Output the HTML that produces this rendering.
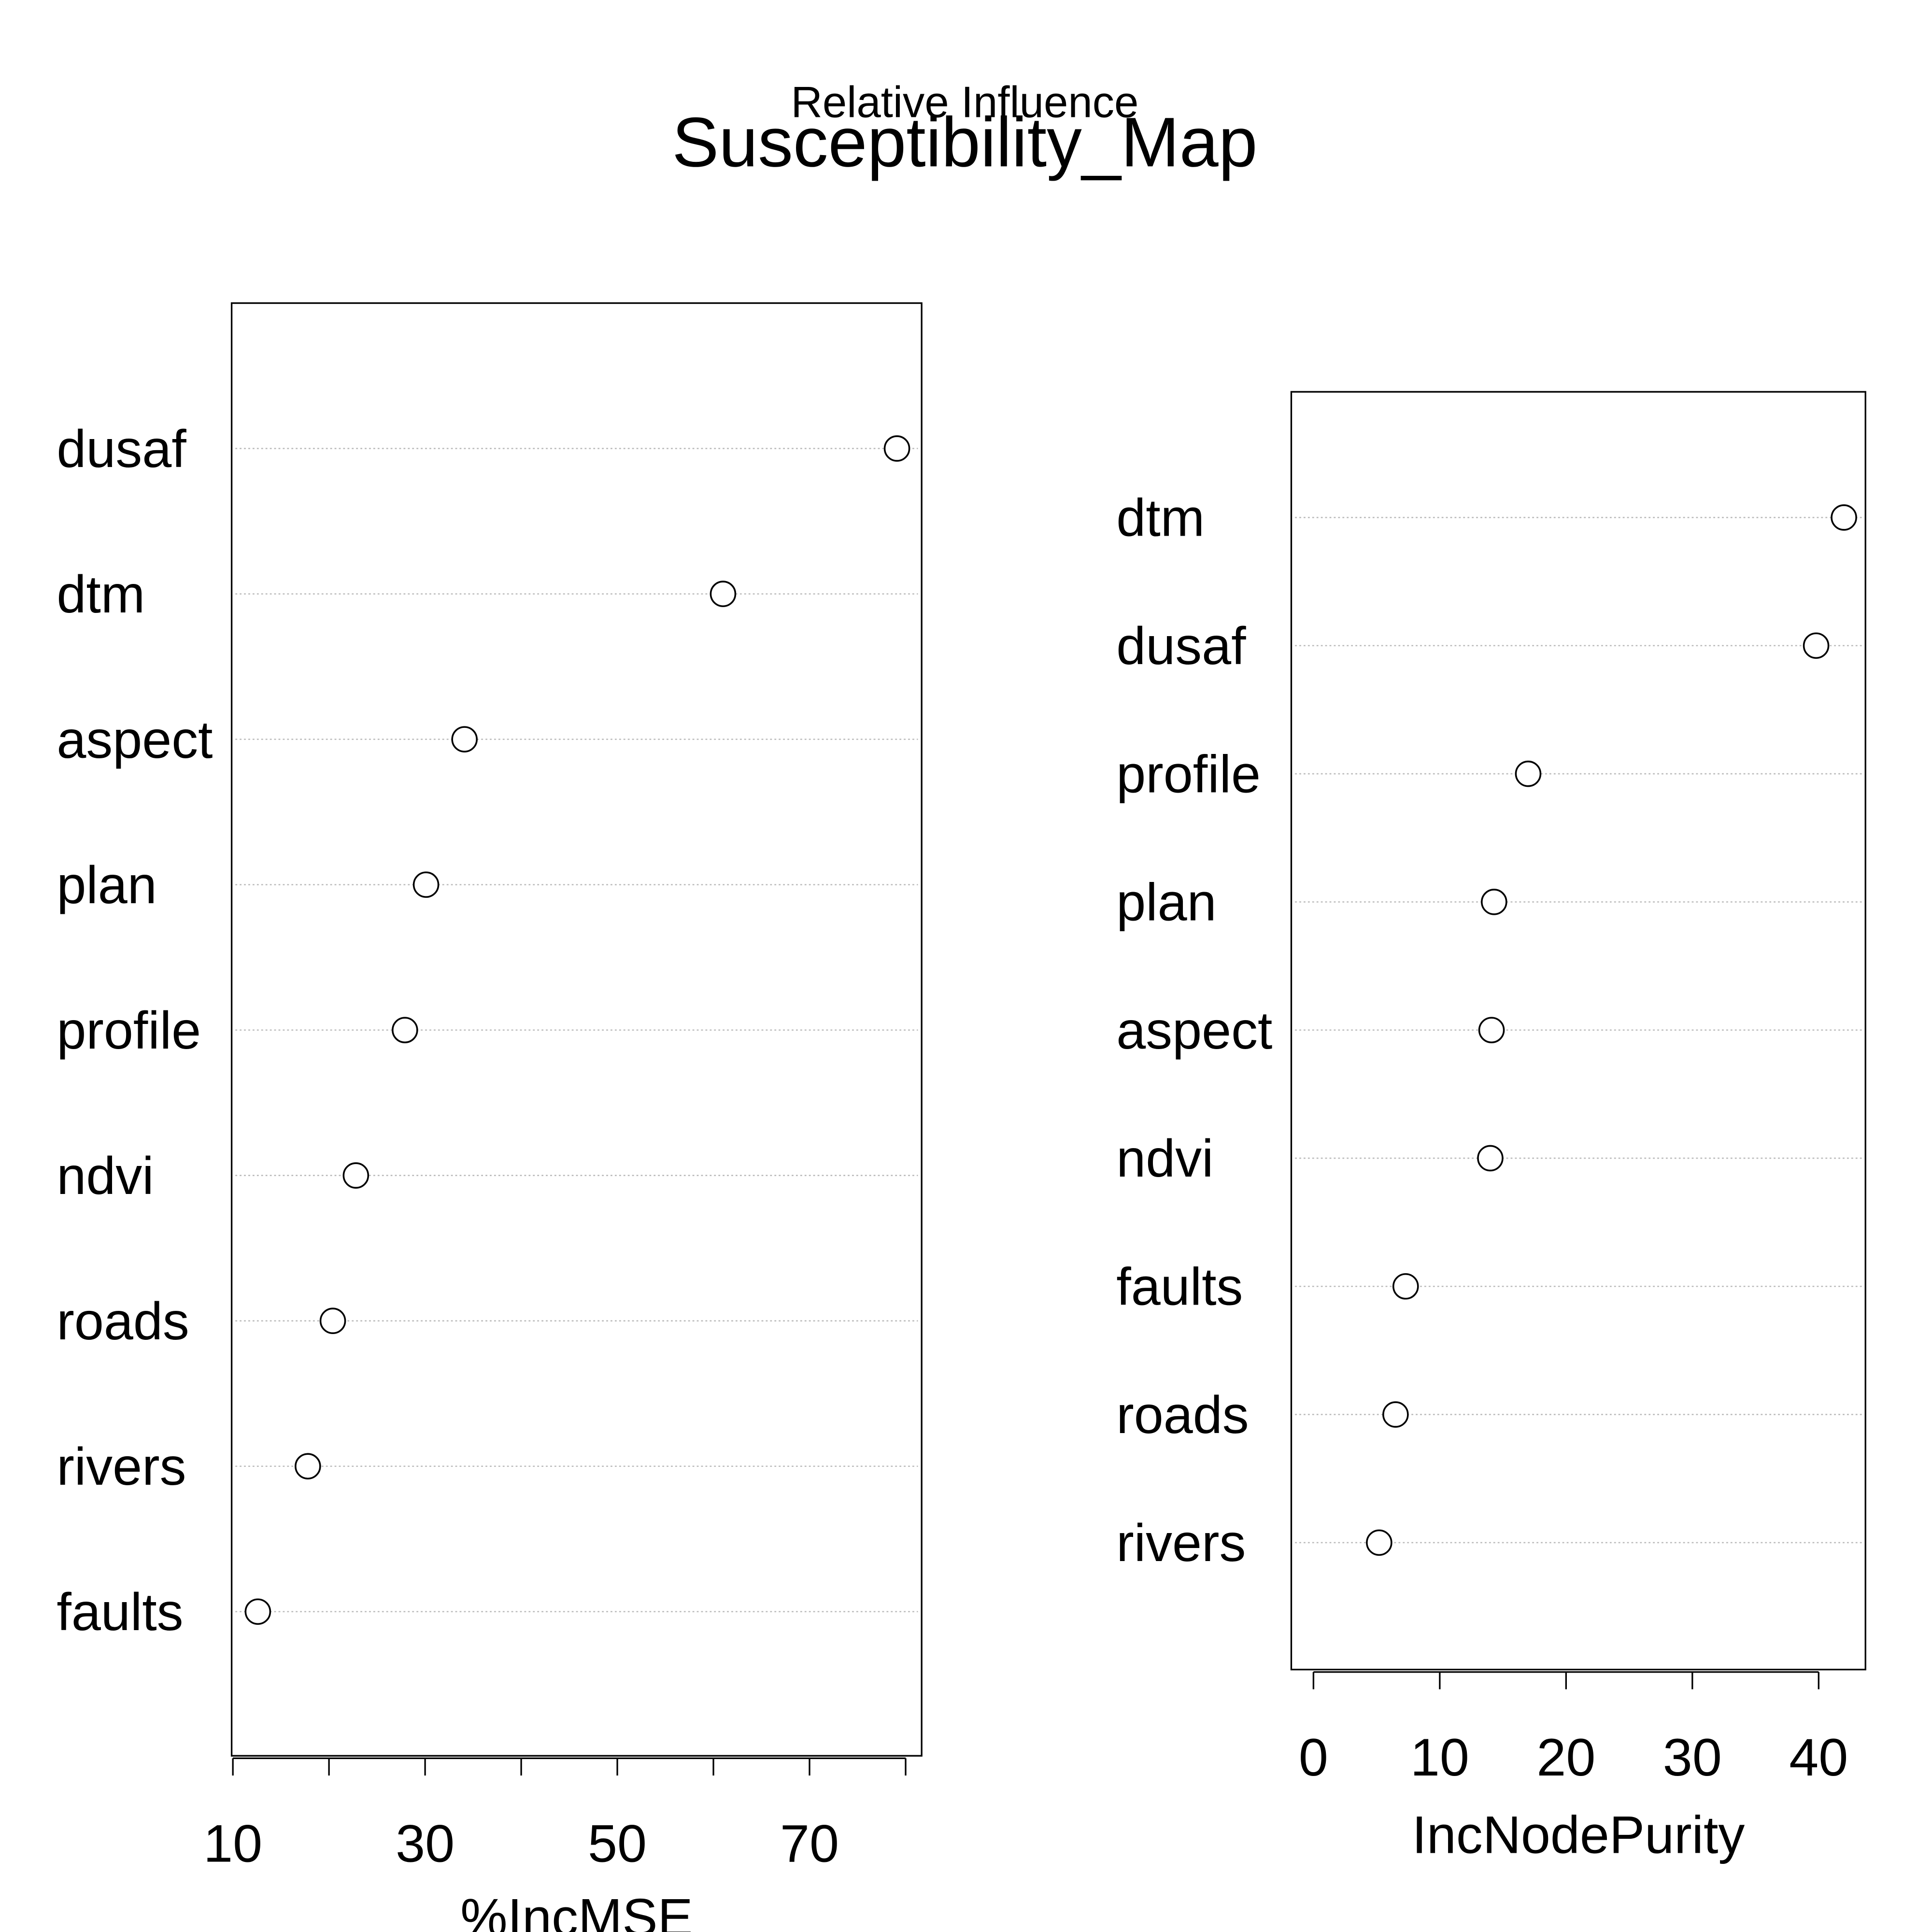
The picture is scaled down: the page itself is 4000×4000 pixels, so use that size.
<!DOCTYPE html>
<html><head><meta charset="utf-8">
<style>
html,body{margin:0;padding:0;background:#fff;}
svg{display:block;}
text{font-family:"Liberation Sans",Arial,sans-serif;fill:#000;}
</style></head>
<body>
<svg id="chart" width="4000" height="4000" viewBox="0 0 1568 1568" xmlns="http://www.w3.org/2000/svg">
<rect x="0" y="0" width="1568" height="1568" fill="#fff"/>
<text x="783" y="95" font-size="35.5" text-anchor="middle">Relative Influence</text>
<text x="783" y="135" font-size="57" text-anchor="middle">Susceptibility_Map</text>
</svg>
<script>
const leftVars = ["dusaf","dtm","aspect","plan","profile","ndvi","roads","rivers","faults"];
const leftVals = [79.1,61.0,34.1,30.1,27.9,22.8,20.4,17.8,12.6];
const leftTicks = [10,20,30,40,50,60,70,80];
const leftTickLabels = ["10","30","50","70"];
const rightVars = ["dtm","dusaf","profile","plan","aspect","ndvi","faults","roads","rivers"];
const rightVals = [42.0,39.8,17.0,14.3,14.1,14.0,7.3,6.5,5.2];
const rightTicks = [0,10,20,30,40];
const rightTickLabels = ["0","10","20","30","40"];

const NS="http://www.w3.org/2000/svg";
const svg=document.getElementById('chart');
function mk(tag,attrs,parent){const e=document.createElementNS(NS,tag);for(const k in attrs)e.setAttribute(k,attrs[k]);(parent||svg).appendChild(e);return e;}

function panel(cfg){
  const g=mk('g',{});
  
  
  const xs=v=>cfg.x0+(v-cfg.v0)*cfg.pxPer;
  const ys=i=>cfg.yFirst+i*cfg.step;
  cfg.vars.forEach((name,i)=>{
    const y=ys(i);
    const gl=mk('line',{x1:cfg.bx1+3,x2:cfg.bx2-3,y1:y,y2:y,stroke:'#bbb','stroke-width':1,'stroke-dasharray':'1.5,2'},g);
    
    
    const t=mk('text',{x:cfg.labelX,y:y+15,'font-size':43},g);
    t.textContent=name;
    
    
    const c=mk('circle',{cx:xs(cfg.vals[i]),cy:y,r:10,fill:'#fff',stroke:'#000','stroke-width':1.4},g);
    
    
  });
  const box=mk('rect',{x:cfg.bx1,y:cfg.by1,width:cfg.bx2-cfg.bx1,height:cfg.by2-cfg.by1,fill:'none',stroke:'#000','stroke-width':1.3},g);
  
  
  const ax=mk('line',{x1:xs(cfg.ticks[0]),x2:xs(cfg.ticks[cfg.ticks.length-1]),y1:cfg.by2+2,y2:cfg.by2+2,stroke:'#000','stroke-width':1.3},g);
  
  
  cfg.ticks.forEach(v=>{
    const tk=mk('line',{x1:xs(v),x2:xs(v),y1:cfg.by2+2,y2:cfg.by2+16,stroke:'#000','stroke-width':1.3},g);
    
    
  });
  cfg.tickLabels.forEach(s=>{
    const tl=mk('text',{x:xs(parseFloat(s)),y:cfg.by2+86,'font-size':43,'text-anchor':'middle'},g);
    tl.textContent=s;
    
    
  });
  const at=mk('text',{x:cfg.titleX,y:cfg.titleY,'font-size':43,'text-anchor':'middle'},g);
  at.textContent=cfg.title;
  
  
}

panel({name:'panel-incmse',vars:leftVars,vals:leftVals,ticks:leftTicks,tickLabels:leftTickLabels,
  x0:189,v0:10,pxPer:7.8,yFirst:364,step:118,bx1:188,bx2:748,by1:246,by2:1425,labelX:46,
  title:'%IncMSE',titleX:468,titleY:1571});
panel({name:'panel-incnodepurity',vars:rightVars,vals:rightVals,ticks:rightTicks,tickLabels:rightTickLabels,
  x0:1066,v0:0,pxPer:10.25,yFirst:420,step:104,bx1:1048,bx2:1514,by1:318,by2:1355,labelX:906,
  title:'IncNodePurity',titleX:1281,titleY:1504});
</script>
</body></html>
